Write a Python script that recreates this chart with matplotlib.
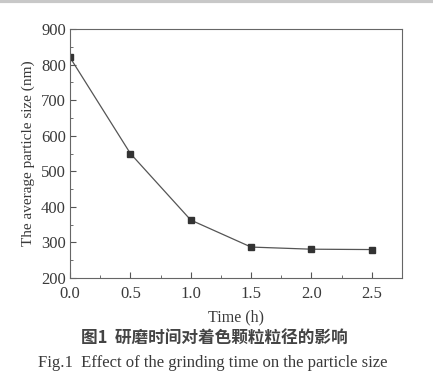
import matplotlib.pyplot as plt
from matplotlib.ticker import MultipleLocator
from matplotlib.lines import Line2D

time_h = [0.0, 0.5, 1.0, 1.5, 2.0, 2.5]
size_nm = [820, 550, 363, 287, 281, 280]

plt.rcParams['font.family'] = ['Liberation Serif']
ink = '#3a3a3a'

fig = plt.figure(figsize=(4.33, 3.84), dpi=100)
ax = fig.add_axes([0.1617, 0.276, 0.7667, 0.6485])

ax.plot(time_h, size_nm, color='#555555', lw=0.9, marker='s', ms=5,
        mfc='#333333', mec='#333333')

ax.set_xlim(0, 2.75)
ax.set_ylim(200, 900)
ax.xaxis.set_minor_locator(MultipleLocator(0.25))
ax.yaxis.set_major_locator(MultipleLocator(100))
ax.yaxis.set_minor_locator(MultipleLocator(50))
ax.set_xticks([0, 0.5, 1.0, 1.5, 2.0, 2.5])
ax.set_xticklabels(['0.0', '0.5', '1.0', '1.5', '2.0', '2.5'])
ax.tick_params(which='both', direction='in', top=False, right=False,
               colors='#555555', labelcolor=ink, labelsize=12)
ax.tick_params(axis='x', which='major', pad=6)
ax.tick_params(axis='y', which='major', pad=3)
ax.tick_params(which='major', length=4)
ax.tick_params(which='minor', length=2)
for s in ax.spines.values():
    s.set_color('#666666')
    s.set_linewidth(0.8)

ax.set_xlabel('Time (h)', fontsize=11.5, color=ink, labelpad=5)
ax.set_ylabel('The average particle size (nm)', fontsize=11, color=ink, labelpad=4)

fig.text(0.495, 0.12, '图1  研磨时间对着色颗粒粒径的影响',
         family=['Noto Sans CJK SC', 'DejaVu Sans'], fontweight='bold',
         fontsize=12, color='#444444', ha='center', va='center')
fig.text(0.492, 0.055, 'Fig.1  Effect of the grinding time on the particle size',
         fontsize=12, color=ink, ha='center', va='center')

fig.add_artist(Line2D([0, 1], [0.997, 0.997], transform=fig.transFigure,
                      color='#c8c8c8', lw=3))

fig.savefig('out.png', dpi=100)
